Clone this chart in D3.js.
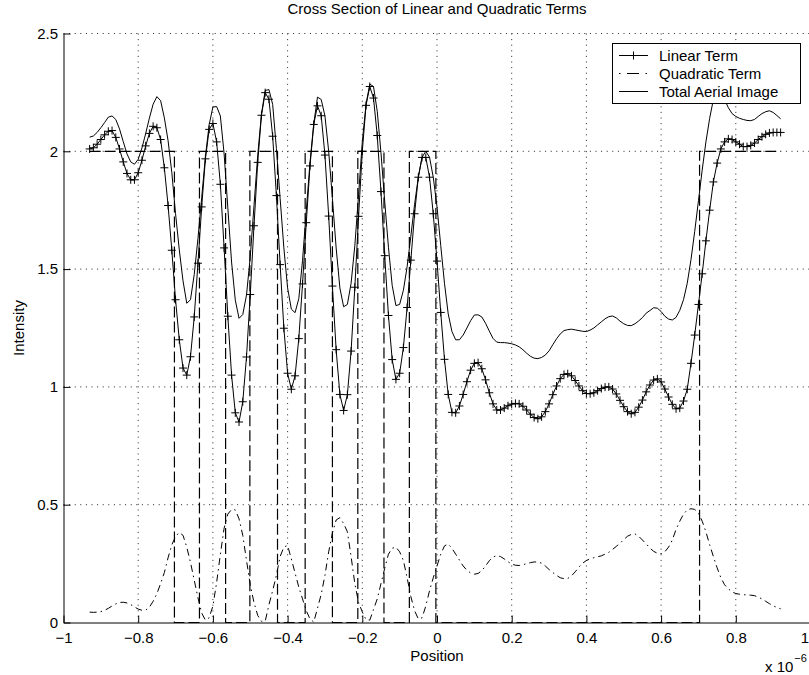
<!DOCTYPE html>
<html><head><meta charset="utf-8">
<script src="https://cdn.jsdelivr.net/npm/d3@7"></script>
<style>
html,body{margin:0;padding:0;background:#fff;}
svg{display:block;}
text{font-family:"Liberation Sans",Arial,Helvetica,sans-serif;fill:#000;}
</style></head><body>
<svg id="chart" width="809" height="675"></svg>
<script>
// ---------- DATA ----------
const position = [
-0.93,-0.92,-0.91,-0.90,-0.89,-0.88,-0.87,-0.86,-0.85,-0.84,
-0.83,-0.82,-0.81,-0.80,-0.79,-0.78,-0.77,-0.76,-0.75,-0.74,
-0.73,-0.72,-0.71,-0.70,-0.69,-0.68,-0.67,-0.66,-0.65,-0.64,
-0.63,-0.62,-0.61,-0.60,-0.59,-0.58,-0.57,-0.56,-0.55,-0.54,
-0.53,-0.52,-0.51,-0.50,-0.49,-0.48,-0.47,-0.46,-0.45,-0.44,
-0.43,-0.42,-0.41,-0.40,-0.39,-0.38,-0.37,-0.36,-0.35,-0.34,
-0.33,-0.32,-0.31,-0.30,-0.29,-0.28,-0.27,-0.26,-0.25,-0.24,
-0.23,-0.22,-0.21,-0.20,-0.19,-0.18,-0.17,-0.16,-0.15,-0.14,
-0.13,-0.12,-0.11,-0.10,-0.09,-0.08,-0.07,-0.06,-0.05,-0.04,
-0.03,-0.02,-0.01,0.00,0.01,0.02,0.03,0.04,0.05,0.06,
0.07,0.08,0.09,0.10,0.11,0.12,0.13,0.14,0.15,0.16,
0.17,0.18,0.19,0.20,0.21,0.22,0.23,0.24,0.25,0.26,
0.27,0.28,0.29,0.30,0.31,0.32,0.33,0.34,0.35,0.36,
0.37,0.38,0.39,0.40,0.41,0.42,0.43,0.44,0.45,0.46,
0.47,0.48,0.49,0.50,0.51,0.52,0.53,0.54,0.55,0.56,
0.57,0.58,0.59,0.60,0.61,0.62,0.63,0.64,0.65,0.66,
0.67,0.68,0.69,0.70,0.71,0.72,0.73,0.74,0.75,0.76,
0.77,0.78,0.79,0.80,0.81,0.82,0.83,0.84,0.85,0.86,
0.87,0.88,0.89,0.90,0.91,0.92];

const linearTerm = [
2.01,2.015,2.03,2.05,2.07,2.085,2.088,2.059,2.01,1.955,
1.906,1.879,1.879,1.909,1.962,2.023,2.076,2.106,2.10,2.05,
1.93,1.77,1.58,1.37,1.20,1.08,1.05,1.128,1.297,1.525,
1.764,1.968,2.093,2.118,2.04,1.86,1.59,1.30,1.05,0.89,
0.851,0.937,1.127,1.392,1.684,1.953,2.153,2.249,2.221,2.064,
1.812,1.519,1.249,1.058,0.99,1.047,1.205,1.437,1.697,1.938,
2.114,2.193,2.151,1.984,1.725,1.428,1.158,0.968,0.90,0.967,
1.152,1.423,1.724,2.0,2.195,2.275,2.226,2.067,1.829,1.557,
1.303,1.116,1.032,1.058,1.167,1.337,1.538,1.735,1.89,1.974,
1.974,1.890,1.735,1.534,1.316,1.117,0.968,0.892,0.890,0.919,
0.968,1.022,1.071,1.10,1.103,1.077,1.03,0.975,0.928,0.902,
0.902,0.910,0.920,0.927,0.930,0.928,0.918,0.902,0.884,0.870,
0.865,0.873,0.895,0.928,0.967,1.004,1.035,1.053,1.056,1.047,
1.027,1.004,0.984,0.972,0.971,0.975,0.984,0.993,0.999,1.00,
0.991,0.97,0.943,0.916,0.895,0.886,0.892,0.914,0.944,0.979,
1.008,1.029,1.034,1.021,0.991,0.957,0.926,0.907,0.91,0.94,
0.99,1.10,1.22,1.35,1.48,1.62,1.75,1.87,1.95,2.01,
2.04,2.053,2.05,2.04,2.03,2.02,2.02,2.025,2.035,2.05,
2.062,2.072,2.078,2.08,2.08,2.08];

const quadraticTerm = [
0.044,0.043,0.044,0.046,0.052,0.06,0.07,0.079,0.085,0.086,
0.083,0.076,0.066,0.057,0.052,0.052,0.065,0.09,0.122,0.165,
0.212,0.275,0.33,0.365,0.382,0.37,0.32,0.255,0.18,0.105,
0.04,0.01,0.02,0.07,0.17,0.29,0.40,0.46,0.48,0.478,
0.44,0.37,0.263,0.16,0.085,0.03,0.005,0.005,0.075,0.135,
0.2,0.28,0.32,0.327,0.27,0.21,0.15,0.1,0.05,0.015,
0.002,0.06,0.12,0.2,0.3,0.38,0.435,0.445,0.42,0.385,
0.28,0.165,0.085,0.045,0.012,0.01,0.055,0.1,0.165,0.23,
0.29,0.315,0.32,0.3,0.263,0.19,0.11,0.05,0.015,0.02,
0.07,0.135,0.19,0.24,0.29,0.325,0.333,0.315,0.29,0.265,
0.24,0.222,0.21,0.205,0.208,0.22,0.24,0.262,0.278,0.284,
0.28,0.27,0.258,0.248,0.243,0.242,0.245,0.25,0.254,0.257,
0.257,0.252,0.24,0.225,0.212,0.2,0.19,0.186,0.187,0.198,
0.215,0.235,0.252,0.263,0.27,0.275,0.279,0.283,0.29,0.298,
0.31,0.323,0.336,0.352,0.366,0.374,0.376,0.366,0.35,0.334,
0.316,0.302,0.294,0.292,0.3,0.32,0.35,0.395,0.43,0.46,
0.478,0.483,0.48,0.465,0.43,0.385,0.33,0.28,0.232,0.19,
0.16,0.143,0.13,0.123,0.12,0.118,0.117,0.116,0.114,0.108,
0.1,0.09,0.08,0.071,0.064,0.058];

const totalImage = [
2.06,2.065,2.08,2.10,2.122,2.145,2.15,2.135,2.095,2.041,
1.989,1.955,1.945,1.966,2.014,2.075,2.141,2.2,2.232,2.215,
2.142,2.045,1.91,1.735,1.582,1.45,1.355,1.37,1.477,1.63,
1.804,1.978,2.113,2.188,2.19,2.15,1.99,1.76,1.53,1.368,
1.291,1.307,1.39,1.552,1.769,1.983,2.158,2.258,2.262,2.199,
2.012,1.80,1.59,1.42,1.33,1.315,1.375,1.537,1.747,1.953,
2.116,2.23,2.22,2.15,2.0,1.80,1.59,1.42,1.34,1.35,
1.44,1.60,1.815,2.04,2.2,2.285,2.275,2.17,1.994,1.787,
1.593,1.431,1.345,1.35,1.41,1.51,1.64,1.775,1.89,1.975,
2.0,1.975,1.89,1.765,1.60,1.44,1.31,1.235,1.20,1.20,
1.22,1.25,1.281,1.305,1.306,1.297,1.27,1.237,1.206,1.19,
1.188,1.188,1.186,1.183,1.178,1.17,1.158,1.143,1.13,1.122,
1.12,1.125,1.135,1.153,1.179,1.204,1.225,1.239,1.243,1.245,
1.242,1.239,1.236,1.235,1.241,1.25,1.263,1.276,1.289,1.298,
1.301,1.293,1.279,1.268,1.261,1.26,1.268,1.28,1.294,1.313,
1.324,1.336,1.334,1.32,1.30,1.288,1.284,1.295,1.325,1.37,
1.44,1.54,1.66,1.79,1.92,2.04,2.14,2.22,2.26,2.26,
2.22,2.185,2.16,2.148,2.14,2.135,2.131,2.13,2.135,2.148,
2.16,2.168,2.172,2.165,2.152,2.138];

// mask outline (dashed step line, not in legend)
const maskX = [-0.93,-0.703,-0.703,-0.636,-0.636,-0.566,-0.566,-0.501,-0.501,-0.427,-0.427,-0.353,-0.353,-0.28,-0.28,-0.212,-0.212,-0.142,-0.142,-0.074,-0.074,-0.003,-0.003,0.703,0.703,0.92];
const maskY = [2,2,0,0,2,2,0,0,2,2,0,0,2,2,0,0,2,2,0,0,2,2,0,0,2,2];

const xTicks = [-1,-0.8,-0.6,-0.4,-0.2,0,0.2,0.4,0.6,0.8,1];
const xTickLabels = ["\u22121","\u22120.8","\u22120.6","\u22120.4","\u22120.2","0","0.2","0.4","0.6","0.8","1"];
const yTicks = [0,0.5,1,1.5,2,2.5];
const yTickLabels = ["0","0.5","1","1.5","2","2.5"];
const seriesNames = ["Linear Term","Quadratic Term","Total Aerial Image"];
const titleText = "Cross Section of Linear and Quadratic Terms";

// ---------- DRAWING ----------
const FONT = 15;
const L = 63.5, R = 810.5, T = 33.5, B = 622.5;
const x = d3.scaleLinear().domain([-1, 1]).range([L, R]);
const y = d3.scaleLinear().domain([0, 2.5]).range([B, T]);
const svg = d3.select("#chart");

// dotted grid
const grid = svg.append("g").attr("stroke", "#000").attr("stroke-width", 1)
  .attr("stroke-dasharray", "1,4.6").attr("opacity", 0.85);
grid.selectAll("line.v").data(xTicks.slice(1)).enter().append("line")
  .attr("x1", d => x(d)).attr("x2", d => x(d)).attr("y1", B).attr("y2", T);
grid.selectAll("line.h").data(yTicks.slice(1)).enter().append("line")
  .attr("y1", d => y(d)).attr("y2", d => y(d)).attr("x1", L).attr("x2", R);

// data lines
const pts = position.map((p, i) => ({p, lin: linearTerm[i], quad: quadraticTerm[i], tot: totalImage[i]}));
const lineOf = key => d3.line().x(d => x(d.p)).y(d => y(d[key]));
const plot = svg.append("g").attr("fill", "none").attr("stroke", "#000");

plot.append("path").datum(pts).attr("d", lineOf("lin")).attr("stroke-width", 1);
const crossPath = "M-4,0H4M0,-4V4";
plot.selectAll("path.mk").data(pts).enter().append("path")
  .attr("transform", d => `translate(${x(d.p)},${y(d.lin)})`)
  .attr("d", crossPath).attr("stroke-width", 1);

plot.append("path").datum(pts).attr("d", lineOf("quad"))
  .attr("stroke-width", 1).attr("stroke-dasharray", "7,4,1.5,4");
plot.append("path").datum(pts).attr("d", lineOf("tot")).attr("stroke-width", 1);

const maskPts = maskX.map((v, i) => [v, maskY[i]]);
plot.append("path").datum(maskPts)
  .attr("d", d3.line().x(d => x(d[0])).y(d => y(d[1])))
  .attr("stroke-width", 1.2).attr("stroke-dasharray", "11,4");

// axes
const yAxis = d3.axisLeft(y).tickValues(yTicks).tickFormat((d, i) => yTickLabels[i])
  .tickSizeInner(-7).tickSizeOuter(0).tickPadding(5.5);
const xAxis = d3.axisBottom(x).tickValues(xTicks).tickFormat((d, i) => xTickLabels[i])
  .tickSizeInner(-7).tickSizeOuter(0).tickPadding(10);
const gy = svg.append("g").attr("transform", `translate(${L},0)`).call(yAxis);
const gx = svg.append("g").attr("transform", `translate(0,${B})`).call(xAxis);
[gx, gy].forEach(g => {
  g.attr("font-family", null).attr("font-size", null);
  g.selectAll("text").style("font-size", FONT + "px");
  g.selectAll("line,path").attr("stroke", "#000");
});
// keep the label of the last tick (at the image edge) inside the picture
gx.selectAll(".tick").filter(d => d === 1).select("text")
  .attr("text-anchor", "end").attr("x", 808.5 - x(1));

// title and labels
svg.append("text").attr("x", (L + R) / 2).attr("y", 13.5).attr("text-anchor", "middle")
  .style("font-size", FONT + "px").text(titleText);
svg.append("text").attr("x", (L + R) / 2).attr("y", 661).attr("text-anchor", "middle")
  .style("font-size", FONT + "px").text("Position");
svg.append("text").attr("transform", `translate(24,${(T + B) / 2}) rotate(-90)`)
  .attr("text-anchor", "middle").style("font-size", FONT + "px").text("Intensity");
const exp = svg.append("text").attr("x", 765).attr("y", 672).style("font-size", FONT + "px").text("x 10");
const expW = exp.node().getComputedTextLength();
svg.append("text").attr("x", 765 + expW + 1).attr("y", 662).style("font-size", "11px").text("\u22126");

// legend
const lg = svg.append("g");
lg.append("rect").attr("x", 612.5).attr("y", 43.5).attr("width", 188).attr("height", 60)
  .attr("fill", "#fff").attr("stroke", "#000").attr("stroke-width", 1);
const rowsY = [55.5, 73.5, 91.5];
const dashes = [null, "1.5,6.5,12,6.5,1.5,10", null];
seriesNames.forEach((name, i) => {
  lg.append("line").attr("x1", 619).attr("x2", 648).attr("y1", rowsY[i]).attr("y2", rowsY[i])
    .attr("stroke", "#000").attr("stroke-width", 1).attr("stroke-dasharray", dashes[i]);
  lg.append("text").attr("x", 659).attr("y", rowsY[i] + 5.5).style("font-size", FONT + "px").text(name);
});
lg.append("path").attr("transform", `translate(633.5,${rowsY[0]})`).attr("d", crossPath)
  .attr("stroke", "#000").attr("fill", "none");
</script>
</body></html>
